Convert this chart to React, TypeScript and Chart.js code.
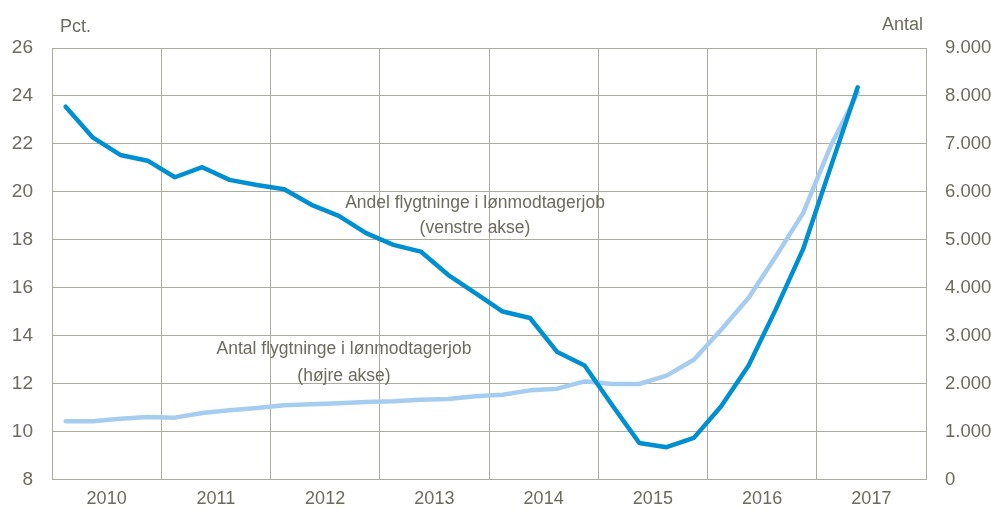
import React, { useEffect, useRef } from "react";
import { Chart, registerables } from "chart.js";

Chart.register(...registerables);

const years = ["2010", "2011", "2012", "2013", "2014", "2015", "2016", "2017"];
const quarters = [
  "2010K1", "2010K2", "2010K3", "2010K4",
  "2011K1", "2011K2", "2011K3", "2011K4",
  "2012K1", "2012K2", "2012K3", "2012K4",
  "2013K1", "2013K2", "2013K3", "2013K4",
  "2014K1", "2014K2", "2014K3", "2014K4",
  "2015K1", "2015K2", "2015K3", "2015K4",
  "2016K1", "2016K2", "2016K3", "2016K4",
  "2017K1", "2017K2",
];
// Andel flygtninge i lønmodtagerjob (pct., venstre akse)
const andelPct = [
  23.55, 22.26, 21.54, 21.3, 20.61, 21.03, 20.5, 20.29,
  20.11, 19.46, 19.0, 18.28, 17.79, 17.51, 16.54, 15.78,
  15.01, 14.74, 13.32, 12.76, 11.12, 9.53, 9.35, 9.74,
  11.06, 12.75, 15.1, 17.61, 21.0, 24.36,
];
// Antal flygtninge i lønmodtagerjob (højre akse)
const antal = [
  1215, 1215, 1271, 1306, 1292, 1389, 1444, 1493,
  1549, 1569, 1590, 1618, 1632, 1667, 1681, 1736,
  1771, 1861, 1896, 2049, 1993, 1993, 2167, 2500,
  3125, 3785, 4653, 5556, 6944, 8069,
];
const leftTicks = { min: 8, max: 26, step: 2 };
const rightTicks = { min: 0, max: 9000, step: 1000 };

const FONT = "'Liberation Sans', Arial, sans-serif";
const TEXT = "#6d6a5e";
const GRID = "#aeab9f";

function fmt(v: number): string {
  return String(Math.round(v)).replace(/\B(?=(\d{3})+(?!\d))/g, ".");
}

const textPlugin = {
  id: "texts",
  afterDraw(chart: any) {
    const ctx = chart.ctx;
    ctx.save();
    ctx.fillStyle = TEXT;
    ctx.font = `18px ${FONT}`;
    ctx.textBaseline = "middle";
    ctx.textAlign = "left";
    ctx.fillText("Pct.", 60, 27);
    ctx.textAlign = "right";
    ctx.fillText("Antal", 923, 25);
    ctx.font = `17.5px ${FONT}`;
    ctx.textAlign = "center";
    ctx.fillText("Andel flygtninge i lønmodtagerjob", 475, 203);
    ctx.fillText("(venstre akse)", 475, 228);
    ctx.fillText("Antal flygtninge i lønmodtagerjob", 344, 349);
    ctx.fillText("(højre akse)", 344, 376);
    ctx.restore();
  },
};

export default function App() {
  const ref = useRef<HTMLCanvasElement | null>(null);
  useEffect(() => {
    if (!ref.current) return;
    const chart = new Chart(ref.current, {
      type: "line",
      data: {
        datasets: [
          {
            label: "Andel flygtninge i lønmodtagerjob",
            data: andelPct.map((v, i) => ({ x: i + 0.5, y: v })),
            yAxisID: "y",
            borderColor: "#0090d2",
            borderWidth: 4.5,
            pointRadius: 0,
            tension: 0,
            borderCapStyle: "round",
            borderJoinStyle: "round",
          },
          {
            label: "Antal flygtninge i lønmodtagerjob",
            data: antal.map((v, i) => ({ x: i + 0.5, y: v })),
            yAxisID: "y1",
            borderColor: "#a6cdef",
            borderWidth: 4.5,
            pointRadius: 0,
            tension: 0,
            borderCapStyle: "round",
            borderJoinStyle: "round",
          },
        ],
      },
      options: {
        animation: false,
        responsive: true,
        maintainAspectRatio: false,
        layout: { padding: { top: 48, left: 0, right: 0, bottom: 0 } },
        plugins: {
          legend: { display: false },
          tooltip: { enabled: false },
        },
        scales: {
          x: {
            type: "linear",
            min: 0,
            max: quarters.length + 2,
            afterFit: (s: any) => {
              s.height = 30;
            },
            ticks: {
              stepSize: 2,
              autoSkip: false,
              maxRotation: 0,
              padding: 9,
              color: TEXT,
              font: { family: FONT, size: 18 },
              callback: (v: any) => {
                const n = Number(v);
                return n % 4 === 2 ? years[(n - 2) / 4] : "";
              },
            },
            grid: {
              drawTicks: false,
              color: (c: any) =>
                c.tick && c.tick.value % 4 === 0 ? GRID : "rgba(0,0,0,0)",
              lineWidth: 1,
            },
            border: { display: true, color: GRID },
          },
          y: {
            position: "left",
            min: leftTicks.min,
            max: leftTicks.max,
            afterFit: (s: any) => {
              s.width = 52;
            },
            ticks: {
              stepSize: leftTicks.step,
              padding: 19,
              color: TEXT,
              font: { family: FONT, size: 19 },
            },
            grid: { drawTicks: false, color: GRID, lineWidth: 1 },
            border: { display: true, color: GRID },
          },
          y1: {
            position: "right",
            min: rightTicks.min,
            max: rightTicks.max,
            afterFit: (s: any) => {
              s.width = 65;
            },
            ticks: {
              stepSize: rightTicks.step,
              padding: 19,
              color: TEXT,
              font: { family: FONT, size: 18.5 },
              callback: (v: any) => fmt(Number(v)),
            },
            grid: { drawTicks: false, drawOnChartArea: false },
            border: { display: true, color: GRID },
          },
        },
      },
      plugins: [textPlugin],
    } as any);
    return () => chart.destroy();
  }, []);
  return (
    <div style={{ position: "fixed", left: 0, top: 0, width: 991, height: 510, background: "#fff" }}>
      <canvas ref={ref} />
    </div>
  );
}
